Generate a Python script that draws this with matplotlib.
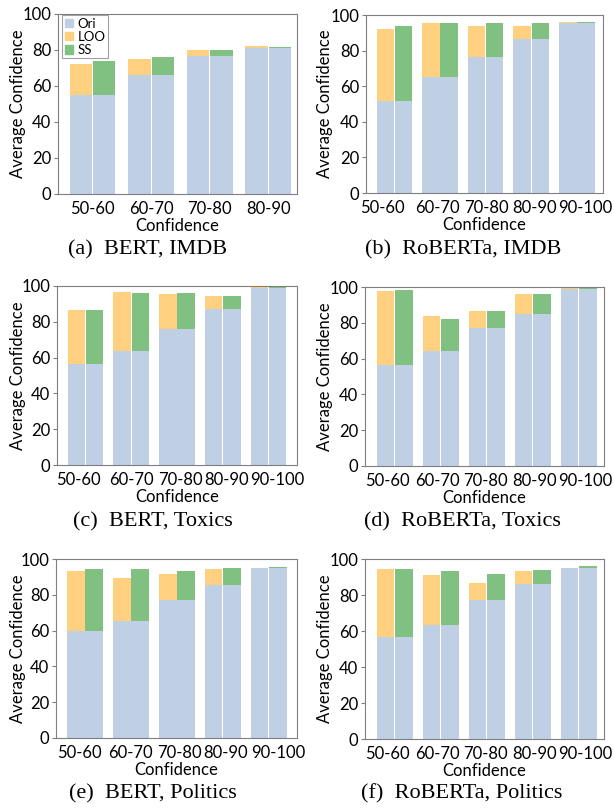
import matplotlib
matplotlib.use("Agg")
import matplotlib.pyplot as plt
import matplotlib.transforms as mtrans
import numpy as np
from matplotlib.patches import Patch

bins4 = ["50-60", "60-70", "70-80", "80-90"]
bins5 = ["50-60", "60-70", "70-80", "80-90", "90-100"]

# (a) BERT, IMDB
a_ori = [55.2, 65.9, 76.9, 81.1]
a_loo = [72.2, 75.2, 80.0, 82.0]
a_ss = [73.9, 76.3, 80.0, 81.9]
# (b) RoBERTa, IMDB
b_ori = [51.5, 65.4, 76.5, 86.7, 95.7]
b_loo = [92.3, 95.5, 94.0, 94.0, 96.2]
b_ss = [93.8, 95.7, 95.7, 95.7, 96.2]
# (c) BERT, Toxics
c_ori = [56.4, 63.6, 75.7, 86.9, 98.7]
c_loo = [86.4, 96.8, 95.5, 94.2, 100.0]
c_ss = [86.4, 96.1, 95.9, 94.4, 99.6]
# (d) RoBERTa, Toxics
d_ori = [56.2, 64.0, 77.1, 85.1, 98.9]
d_loo = [97.9, 84.0, 86.8, 95.9, 99.8]
d_ss = [98.3, 82.1, 86.8, 95.9, 99.8]
# (e) BERT, Politics
e_ori = [59.8, 65.4, 77.3, 85.7, 95.2]
e_loo = [93.1, 89.2, 91.6, 94.2, 95.2]
e_ss = [94.4, 94.4, 93.1, 94.8, 95.4]
# (f) RoBERTa, Politics
f_ori = [56.6, 63.6, 77.4, 85.9, 95.2]
f_loo = [94.4, 91.3, 86.8, 93.5, 95.2]
f_ss = [94.6, 93.3, 91.5, 94.1, 95.9]

captions = ["(a)  BERT, IMDB", "(b)  RoBERTa, IMDB", "(c)  BERT, Toxics",
            "(d)  RoBERTa, Toxics", "(e)  BERT, Politics", "(f)  RoBERTa, Politics"]
panels = [(bins4, a_ori, a_loo, a_ss), (bins5, b_ori, b_loo, b_ss),
          (bins5, c_ori, c_loo, c_ss), (bins5, d_ori, d_loo, d_ss),
          (bins5, e_ori, e_loo, e_ss), (bins5, f_ori, f_loo, f_ss)]

C_ORI = "#bfcfe4"
C_LOO = "#ffd080"
C_SS = "#80c080"
SPINE = "#7f7f7f"

W, H = 614, 810
fig = plt.figure(figsize=(W / 100, H / 100), dpi=100)
plt.rcParams['font.family'] = ['Lato', 'DejaVu Sans']

# layout (pixels)
boxes = [(58, 297, 14, 194), (366, 603, 15, 193),
         (57, 297, 286, 465), (365, 604, 287, 466),
         (56, 297, 559, 738), (365, 604, 559, 739)]
xlims = [(-0.59, 3.49), (-0.62, 4.57), (-0.62, 4.62), (-0.65, 4.55),
         (-0.63, 4.61), (-0.65, 4.55)]
label_shift = [[0, 0, 0, 0], [-12, -3, 1, 3, 8], [-7, 0, 3, 4, 9],
               [-7, -3, -1, 2, 7], [-6, -1, 2, 3, 9], [-7, -3, -1, 2, 7]]
ylab_x = [18, 325, 18, 325, 18, 325]
cap_x = [148, 463, 153, 462, 153, 462]
cap_y = [250, 250, 522, 522, 794, 794]

w = 0.38
off = 0.2
for k, ((bins, ori, loo, ss), (l, r, t, b)) in enumerate(zip(panels, boxes)):
    ax = fig.add_axes([l / W, 1 - b / H, (r - l) / W, (b - t) / H])
    x = np.arange(len(bins))
    ax.bar(x - off, loo, w, color=C_LOO, linewidth=0)
    ax.bar(x - off, ori, w, color=C_ORI, linewidth=0)
    ax.bar(x + off, ss, w, color=C_SS, linewidth=0)
    ax.bar(x + off, ori, w, color=C_ORI, linewidth=0)
    ax.set_ylim(0, 100)
    ax.set_xlim(*xlims[k])
    ax.set_yticks([0, 20, 40, 60, 80, 100])
    ax.set_xticks(x)
    ax.set_xticklabels(bins)
    ax.tick_params(axis="both", labelsize=12, colors=SPINE, labelcolor="black",
                   length=3, width=0.8, pad=2)
    ax.tick_params(axis="x", length=0, pad=5)
    for lab, dx in zip(ax.get_xticklabels(), label_shift[k]):
        lab.set_transform(lab.get_transform() +
                          mtrans.ScaledTranslation(dx / 100, 0, fig.dpi_scale_trans))
    for s in ax.spines.values():
        s.set_color(SPINE)
        s.set_linewidth(0.8)
    ax.set_xlabel("Confidence", fontsize=12, va="center")
    ax.xaxis.set_label_coords(0.5, -32 / (b - t))
    ax.set_ylabel("Average Confidence", fontsize=12, va="center")
    ax.yaxis.set_label_coords((ylab_x[k] - l) / (r - l), 0.5)
    if k == 0:
        handles = [Patch(color=C_ORI), Patch(color=C_LOO), Patch(color=C_SS)]
        leg = ax.legend(handles, ["Ori", "LOO", "SS"], loc="upper left",
                        bbox_to_anchor=(4 / (r - l), 1 - 1 / (b - t)),
                        fontsize=9.5, fancybox=False, framealpha=1,
                        edgecolor="#a0a0a0", handlelength=0.65, handleheight=0.65,
                        handletextpad=0.35, borderpad=0.2, labelspacing=0.08,
                        borderaxespad=0)
        leg.get_frame().set_linewidth(0.8)
    fig.text(cap_x[k] / W, 1 - cap_y[k] / H, captions[k], ha="center", va="center",
             fontsize=16, family=["Liberation Serif", "DejaVu Serif"])

fig.savefig("out.png", dpi=100)
